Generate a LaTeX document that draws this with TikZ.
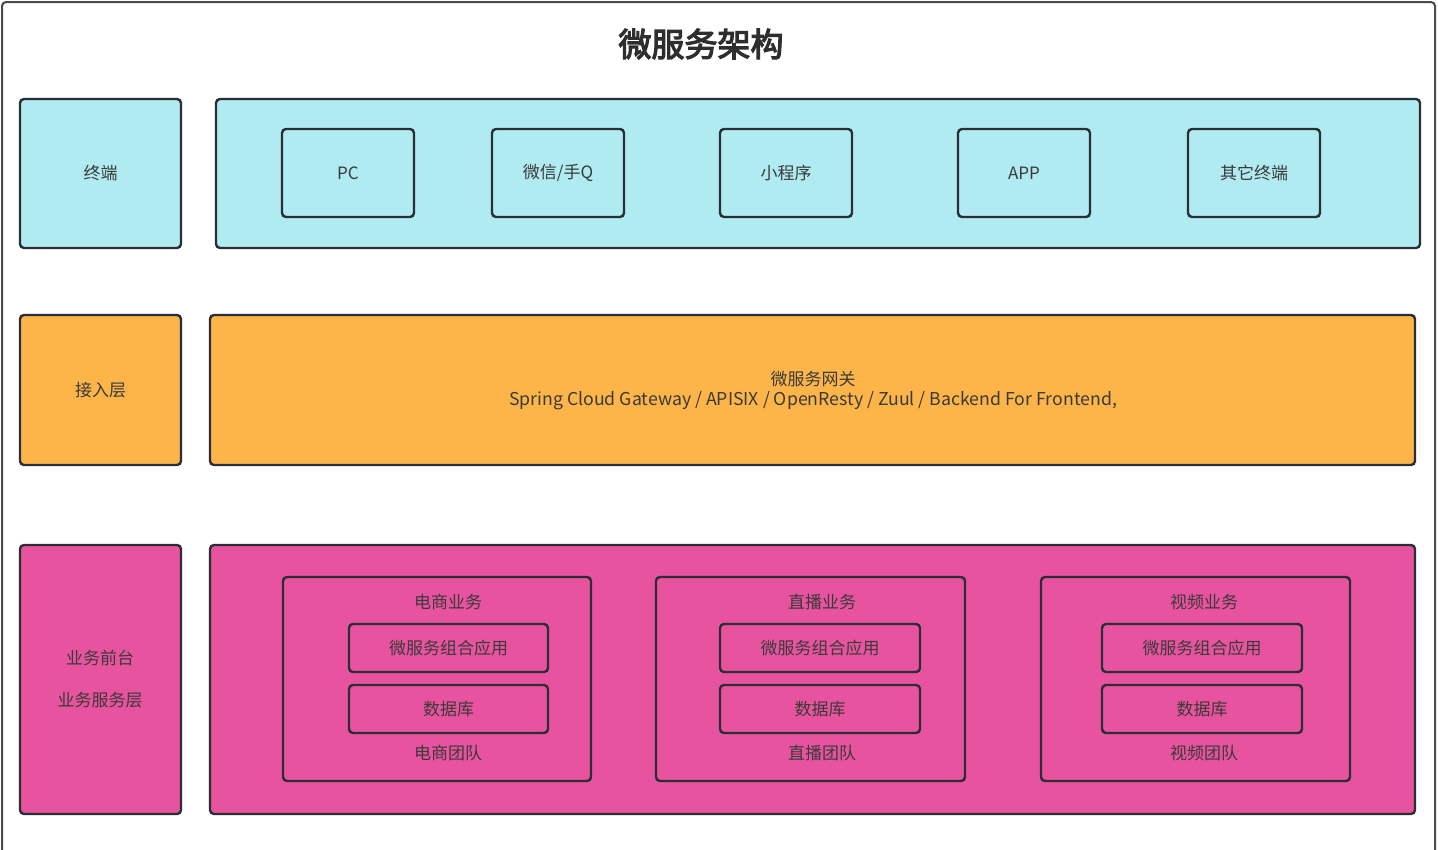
\documentclass[tikz,border=0pt]{standalone}
\usepackage{fontspec}
\setmainfont{Noto Sans CJK SC}
\newfontfamily\titlefont{Noto Sans CJK SC}[FakeBold=3.5]
\definecolor{cyanfill}{HTML}{B1EBF2}
\definecolor{orangefill}{HTML}{FDB54A}
\definecolor{pinkfill}{HTML}{E8539F}
\definecolor{edge}{HTML}{2A2E36}
\definecolor{txt}{HTML}{3A3A3A}
\definecolor{frame}{HTML}{4A4A4A}
\begin{document}
\begin{tikzpicture}[x=1pt,y=-1pt,
  box/.style={draw=edge, line width=2.4pt, rounded corners=4pt, inner sep=0pt, outer sep=0pt, text=txt, font=\fontsize{17}{20}\selectfont, align=center},
  cbox/.style={box, fill=cyanfill},
  obox/.style={box, fill=orangefill},
  pbox/.style={box, fill=pinkfill},
  lbl/.style={text=txt, font=\fontsize{17}{20}\selectfont, inner sep=0pt}
]
\useasboundingbox (0,0) rectangle (1438,849);
\fill[white] (0,0) rectangle (1438,849);
% outer frame
\draw[frame, line width=2pt, rounded corners=4pt] (2,870) -- (2,2) -- (1435,2) -- (1435,870);
% title
\node[text=txt!80!black, font=\titlefont\fontsize{33}{38}\selectfont, inner sep=0pt] (title) at (701,44) {微服务架构};

% row 1
\node[cbox, minimum width=161pt, minimum height=149pt] (term) at (100.5,173.5) {终端};
\node[cbox, minimum width=1204pt, minimum height=149pt] (termrow) at (818,173.5) {};
\node[cbox, minimum width=132pt, minimum height=88pt] (pc) at (348,173) {PC};
\node[cbox, minimum width=132pt, minimum height=88pt] (wx) at (558,173) {微信/手Q};
\node[cbox, minimum width=132pt, minimum height=88pt] (mini) at (786,173) {小程序};
\node[cbox, minimum width=132pt, minimum height=88pt] (app) at (1024,173) {APP};
\node[cbox, minimum width=132pt, minimum height=88pt] (other) at (1254,173) {其它终端};

% row 2
\node[obox, minimum width=161pt, minimum height=150pt] (access) at (100.5,390) {接入层};
\node[obox, minimum width=1205pt, minimum height=150pt] (gw) at (812.5,390) {};
\node[lbl] (gwt) at (813,379) {微服务网关};
\node[lbl, font=\fontsize{17.7}{20}\selectfont] (gws) at (813,401) {Spring Cloud Gateway / APISIX / OpenResty / Zuul / Backend For Frontend,};

% row 3
\node[pbox, minimum width=161pt, minimum height=269pt] (biz) at (100.5,679.5) {};
\node[lbl] (biz1) at (100,658) {业务前台};
\node[lbl] (biz2) at (100,700) {业务服务层};
\node[pbox, minimum width=1205pt, minimum height=269pt] (bizrow) at (812.5,679.5) {};

% groups
\node[pbox, minimum width=308pt, minimum height=204pt] (g1) at (437,679) {};
\node[pbox, minimum width=309pt, minimum height=204pt] (g2) at (810.5,679) {};
\node[pbox, minimum width=309pt, minimum height=204pt] (g3) at (1195.5,679) {};

\node[lbl] (g1t) at (448,602) {电商业务};
\node[lbl] (g2t) at (822,602) {直播业务};
\node[lbl] (g3t) at (1204,602) {视频业务};
\node[lbl] (g1b) at (448,753) {电商团队};
\node[lbl] (g2b) at (822,753) {直播团队};
\node[lbl] (g3b) at (1204,753) {视频团队};

\node[pbox, minimum width=199pt, minimum height=48pt] (a1) at (448.5,648) {微服务组合应用};
\node[pbox, minimum width=199pt, minimum height=48pt] (d1) at (448.5,709) {数据库};
\node[pbox, minimum width=200pt, minimum height=48pt] (a2) at (820,648) {微服务组合应用};
\node[pbox, minimum width=200pt, minimum height=48pt] (d2) at (820,709) {数据库};
\node[pbox, minimum width=200pt, minimum height=48pt] (a3) at (1202,648) {微服务组合应用};
\node[pbox, minimum width=200pt, minimum height=48pt] (d3) at (1202,709) {数据库};
\end{tikzpicture}
\end{document}
